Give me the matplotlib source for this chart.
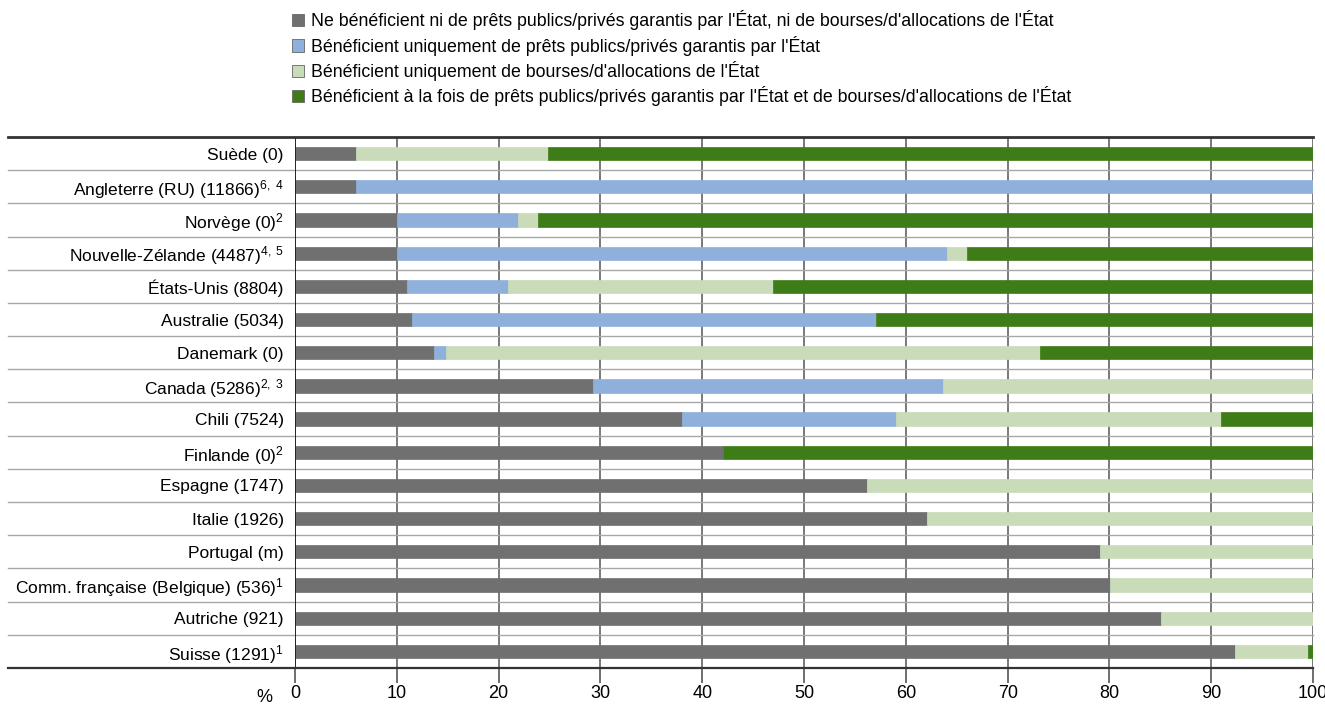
import matplotlib
matplotlib.use("Agg")
import matplotlib.pyplot as plt
import matplotlib.font_manager as fm
import numpy as np

# fonts: narrow sans if available
names = {f.name for f in fm.fontManager.ttflist}
FONT = "Liberation Sans Narrow" if "Liberation Sans Narrow" in names else "Liberation Sans"
plt.rcParams["font.family"] = [FONT, "DejaVu Sans"]
plt.rcParams["mathtext.fontset"] = "custom"
plt.rcParams["mathtext.rm"] = FONT
plt.rcParams["mathtext.it"] = FONT

countries = [
    "Suède (0)",
    "Angleterre (RU) (11866)$^{6,\\ 4}$",
    "Norvège (0)$^{2}$",
    "Nouvelle-Zélande (4487)$^{4,\\ 5}$",
    "États-Unis (8804)",
    "Australie (5034)",
    "Danemark (0)",
    "Canada (5286)$^{2,\\ 3}$",
    "Chili (7524)",
    "Finlande (0)$^{2}$",
    "Espagne (1747)",
    "Italie (1926)",
    "Portugal (m)",
    "Comm. française (Belgique) (536)$^{1}$",
    "Autriche (921)",
    "Suisse (1291)$^{1}$",
]

ni_ni = [6.0, 6.0, 10.0, 10.0, 11.0, 11.5, 13.7, 29.3, 38.0, 42.0, 56.2, 62.1, 79.1, 80.1, 85.1, 92.3]
prets = [0, 94.0, 11.9, 54.0, 9.9, 45.6, 1.1, 34.4, 21.0, 0, 0, 0, 0, 0, 0, 0]
bourses = [18.9, 0, 2.0, 2.0, 26.1, 0, 58.4, 36.3, 32.0, 0, 43.8, 37.9, 20.9, 19.9, 14.9, 7.2]
les_deux = [75.1, 0, 76.1, 34.0, 53.0, 42.9, 26.8, 0, 9.0, 58.0, 0, 0, 0, 0, 0, 0.5]

legend_labels = [
    "Ne bénéficient ni de prêts publics/privés garantis par l'État, ni de bourses/d'allocations de l'État",
    "Bénéficient uniquement de prêts publics/privés garantis par l'État",
    "Bénéficient uniquement de bourses/d'allocations de l'État",
    "Bénéficient à la fois de prêts publics/privés garantis par l'État et de bourses/d'allocations de l'État",
]
colors = ["#707070", "#8fb0da", "#c9dbb8", "#3e7c17"]
ticks = np.arange(0, 101, 10)

fig = plt.figure(figsize=(13.25, 7.08), dpi=100)
ax = fig.add_axes([0.2226, 0.0565, 0.7684, 0.75])

y = np.arange(len(countries))
left = np.zeros(len(countries))
series = [ni_ni, prets, bourses, les_deux]
handles = []
for vals, col, lab in zip(series, colors, legend_labels):
    vals = np.array(vals)
    b = ax.barh(y, vals, left=left, height=0.4, color=col, edgecolor=col,
                linewidth=0.5, label=lab, zorder=3)
    handles.append(b)
    left = left + vals

ax.set_ylim(len(countries) - 0.5, -0.5)
ax.set_xlim(0, 100)
ax.set_yticks(y)
ax.set_yticklabels(countries, fontsize=12.5)
ax.tick_params(axis="y", length=0, pad=8)
ax.set_xticks(ticks)
ax.set_xticklabels([str(t) for t in ticks], fontsize=13)
ax.tick_params(axis="x", length=11, width=1.2, color="#555555", pad=1)
for s in ax.spines.values():
    s.set_visible(False)

# vertical grid
for t in ticks[1:]:
    ax.axvline(t, color="#555555", lw=1.1, zorder=1)
ax.axvline(0, color="#222222", lw=1.4, zorder=4)

# row separators spanning label area
x0 = -0.282
for i in range(1, len(countries)):
    ax.axhline(i - 0.5, xmin=x0, xmax=1, color="#a8a8a8", lw=1.0, clip_on=False, zorder=2)
ax.axhline(-0.5, xmin=x0, xmax=1, color="#333333", lw=2, clip_on=False, zorder=5)
ax.axhline(len(countries) - 0.5, xmin=x0, xmax=1, color="#333333", lw=1.6, clip_on=False, zorder=5)

ax.text(-2.2, -0.04, "%", transform=ax.get_xaxis_transform(), ha="right", va="top",
        fontsize=13)

leg = fig.legend(handles=handles, labels=legend_labels, loc="upper left",
                 bbox_to_anchor=(0.208, 1.008), frameon=False, fontsize=12.8,
                 handlelength=0.7, handleheight=0.7, handletextpad=0.4,
                 labelspacing=0.3)
for p in leg.get_patches():
    p.set_edgecolor("#666666")
    p.set_linewidth(0.6)

fig.savefig("out.png", dpi=100)
